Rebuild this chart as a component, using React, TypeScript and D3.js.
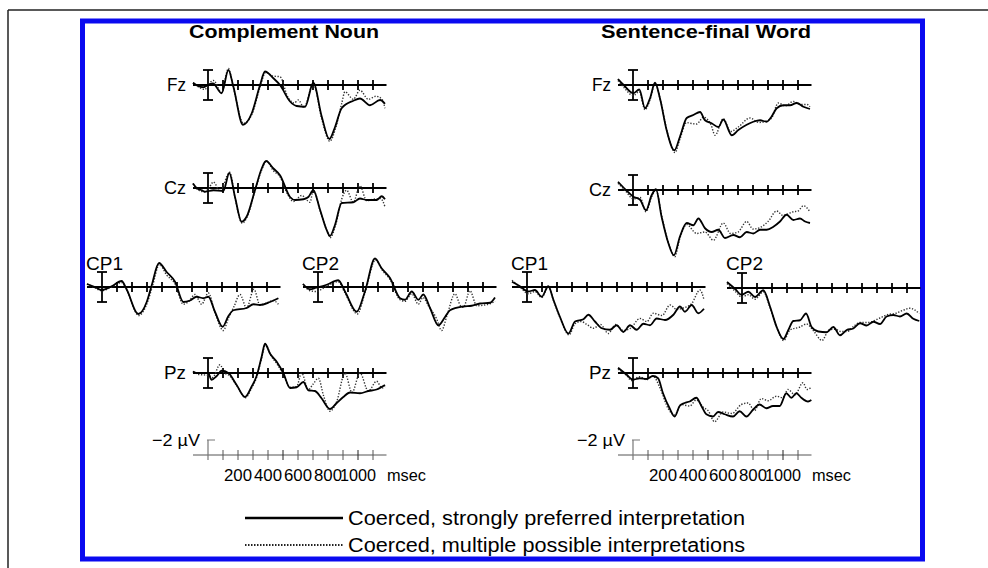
import React from 'react';
import * as d3 from 'd3';

type Pt = [number, number];

// ---------- text / categories ----------
const conditionTitles = ['Complement Noun', 'Sentence-final Word'];
const legendLabels = [
  'Coerced, strongly preferred interpretation',
  'Coerced, multiple possible interpretations',
];
const timeTicks = [100, 200, 300, 400, 500, 600, 700, 800, 900, 1000, 1100];
const timeTickLabels = [200, 400, 600, 800, 1000];
const calibrationLabel = '\u22122 \u00b5V';
const unitLabel = 'msec';

// ---------- data: [ms, µV] (negative plotted up) ----------
// Complement Noun
const cnFzSolid: Pt[] = [[-100,-0.3],[-70,0.1],[-30,0.3],[0,0],[33,-0.2],[91,1.1],[136,-2.0],[169,0.2],[233,5.3],[291,3.8],[347,0],[380,-1.8],[436,-0.9],[480,0],[547,2.2],[591,2.8],[647,2.9],[702,-0.3],[758,4.2],[809,7.2],[847,5.6],[891,3.1],[969,2.1],[1013,1.8],[1080,2.7],[1147,2.0],[1180,2.5]];
const cnFzDotted: Pt[] = [[-100,-0.3],[-60,0.3],[-20,0.6],[0,0],[36,-0.6],[91,1.0],[136,-2.2],[169,0.3],[236,5.1],[291,4.0],[347,0.3],[385,-1.7],[430,-1.2],[480,-1.1],[530,1.5],[575,2.4],[602,2.0],[640,3.0],[702,-0.2],[758,4.5],[812,7.5],[850,5.8],[891,2.5],[913,0.9],[969,1.9],[1013,0.7],[1069,1.9],[1120,1.5],[1160,1.9],[1180,3.1]];
const cnCzSolid: Pt[] = [[-100,-0.6],[-76,0],[-40,0.3],[-20,0.5],[36,0.3],[102,0.4],[142,-2.0],[180,1.2],[224,4.5],[258,3.8],[313,0.3],[358,-2.6],[387,-3.6],[436,-2.6],[480,-1.7],[547,1.2],[580,1.6],[636,1.5],[669,1.2],[702,0.3],[747,2.9],[791,5.6],[813,6.4],[847,4.9],[891,2.0],[969,1.9],[1013,1.4],[1058,1.6],[1124,1.6],[1158,1.1],[1180,1.5]];
const cnCzDotted: Pt[] = [[-100,-0.6],[-76,0.1],[-30,0.5],[0,0.2],[36,-0.8],[80,0.4],[145,-2.1],[180,1.3],[228,4.7],[260,3.9],[313,0.4],[358,-2.4],[390,-3.6],[436,-2.3],[480,-1.5],[530,0.8],[569,1.8],[625,1.0],[680,1.9],[702,0.3],[750,3.2],[795,5.8],[816,6.6],[850,5.0],[891,1.5],[924,0.3],[969,1.9],[1013,-0.3],[1058,1.7],[1100,1.5],[1150,1.4],[1180,2.5]];
const cnCP1Solid: Pt[] = [[-100,-0.4],[-47,0],[-2,0.4],[64,-0.1],[131,-0.8],[164,0.3],[242,3.6],[298,2.0],[331,-0.2],[380,-3.2],[431,-2.0],[487,-0.7],[542,2.0],[587,1.8],[631,1.3],[676,1.5],[709,1.3],[753,3.3],[804,5.3],[842,3.9],[876,3.1],[964,2.8],[1009,2.3],[1053,2.4],[1120,2.0],[1176,1.5]];
const cnCP1Dotted: Pt[] = [[-100,-0.4],[-47,0.1],[-2,0.5],[64,0],[131,-0.6],[164,0.4],[245,3.8],[300,2.2],[335,0],[383,-3.0],[431,-1.6],[487,-0.4],[542,2.3],[580,1.9],[620,1.0],[664,2.3],[709,0.8],[753,3.4],[809,5.8],[842,4.2],[880,2.6],[920,1.0],[964,2.8],[1013,0.3],[1053,2.4],[1100,2.1],[1140,1.8],[1176,2.3]];
const cnCP2Solid: Pt[] = [[-100,-0.4],[-53,0.3],[-13,0.1],[58,-0.3],[135,-0.9],[180,0.6],[258,3.3],[313,0.6],[380,-3.8],[424,-2.5],[480,-1.2],[547,1.5],[580,1.7],[625,0.6],[669,1.7],[702,1.0],[747,2.8],[802,5.1],[847,4.0],[880,3.1],[969,2.6],[1024,2.5],[1080,2.2],[1147,2.1],[1180,1.4]];
const cnCP2Dotted: Pt[] = [[-100,-0.4],[-53,0.5],[-13,0.6],[58,-0.1],[135,-0.7],[180,0.8],[262,3.6],[313,0.8],[383,-3.6],[430,-2.2],[480,-1.0],[547,1.7],[580,1.9],[625,0.9],[669,2.3],[700,1.4],[736,2.5],[790,4.2],[824,5.8],[860,3.8],[913,0.9],[950,2.5],[969,2.7],[1013,0.5],[1058,2.5],[1110,2.4],[1150,2.2],[1180,1.9]];
const cnPzSolid: Pt[] = [[-100,-0.2],[-76,0],[0,0],[24,0.9],[58,0.4],[91,-0.3],[136,0],[191,1.6],[247,3.2],[291,1.8],[324,0.4],[358,-2.2],[380,-3.9],[413,-2.6],[458,-1.5],[502,0],[547,2.0],[591,1.9],[636,1.2],[669,2.3],[713,2.4],[758,3.4],[813,4.8],[858,4.0],[902,3.2],[947,2.6],[1013,2.7],[1069,2.4],[1124,2.2],[1180,1.6]];
const cnPzDotted: Pt[] = [[-100,-0.2],[-60,0.2],[0,0.3],[30,0.6],[80,-1.1],[110,0],[140,0.3],[195,1.8],[250,3.3],[291,2.0],[324,0.6],[358,-2.0],[383,-3.8],[420,-2.3],[460,-1.2],[502,0.2],[547,1.9],[591,1.8],[624,0],[669,2.2],[700,1.5],[736,0.7],[770,3.0],[813,5.1],[858,3.8],[913,0],[960,2.6],[1013,0],[1069,2.4],[1124,1.1],[1160,2.0],[1180,1.8]];

// Sentence-final Word
const sfFzSolid: Pt[] = [[-100,-0.8],[-62,0],[2,1.1],[42,0.6],[80,3.1],[113,1.8],[147,-0.3],[180,1.8],[224,6.0],[276,8.7],[313,6.9],[358,4.4],[402,4.0],[447,3.6],[480,4.7],[524,5.1],[569,5.6],[602,4.6],[658,6.7],[702,6.0],[758,5.3],[802,4.9],[847,4.7],[891,4.9],[924,4.2],[958,3.1],[1002,2.7],[1047,2.7],[1091,2.4],[1136,2.9],[1180,3.2]];
const sfFzDotted: Pt[] = [[-100,-0.6],[-62,0.3],[2,1.4],[42,0.9],[80,3.3],[113,2.0],[147,-0.2],[185,2.2],[230,6.4],[280,9.0],[313,7.2],[358,5.0],[380,5.1],[424,5.2],[470,4.3],[520,5.3],[547,6.7],[602,4.5],[650,6.2],[702,5.6],[780,4.4],[840,5.0],[891,4.8],[924,4.4],[969,2.4],[1013,2.8],[1069,2.2],[1120,2.6],[1160,2.6],[1180,2.9]];
const sfCzSolid: Pt[] = [[-100,-1.1],[-47,0],[2,0.9],[47,1.3],[87,2.7],[124,0.7],[153,-0.1],[191,3.6],[236,7.1],[273,8.7],[313,6.2],[358,4.4],[402,4.7],[436,3.8],[480,5.1],[524,5.6],[569,5.3],[613,6.4],[669,6.0],[713,6.3],[758,5.6],[802,5.8],[847,5.3],[891,5.3],[936,4.9],[980,4.2],[1024,3.3],[1069,4.0],[1113,3.8],[1147,4.2],[1180,4.4]];
const sfCzDotted: Pt[] = [[-100,-0.9],[-47,0.2],[2,1.2],[47,1.0],[87,2.9],[124,0.9],[153,0],[195,3.8],[240,7.3],[278,8.9],[313,6.4],[358,4.6],[424,5.8],[480,5.6],[536,6.7],[602,4.4],[650,5.8],[700,5.6],[758,4.2],[800,5.2],[847,5.0],[900,4.2],[958,2.8],[1000,3.4],[1030,3.2],[1069,2.9],[1100,2.8],[1136,2.1],[1180,2.9]];
const sfCP1Solid: Pt[] = [[-100,-0.7],[-47,-0.1],[9,0.6],[53,0.4],[98,1.3],[142,-0.1],[176,1.7],[220,4.0],[276,6.2],[320,4.6],[376,4.3],[409,3.7],[453,4.6],[498,5.5],[553,5.7],[598,5.1],[642,6.0],[687,5.1],[731,5.7],[776,4.9],[820,5.1],[864,4.2],[920,4.4],[976,3.7],[1020,2.6],[1053,3.3],[1098,2.4],[1142,3.5],[1180,2.9]];
const sfCP1Dotted: Pt[] = [[-100,-0.9],[-47,0],[9,0.9],[53,0.6],[98,1.4],[142,0],[180,2.0],[224,4.3],[280,6.4],[320,4.9],[360,4.6],[400,5.0],[442,5.5],[490,5.0],[542,6.2],[590,5.0],[642,5.8],[690,5.5],[753,4.2],[800,4.6],[842,3.5],[900,3.8],[953,2.4],[1000,3.0],[1040,2.8],[1098,2.2],[1153,0.4],[1180,1.7]];
const sfCP2Solid: Pt[] = [[-100,-0.8],[-47,0.1],[-2,0.9],[42,0.5],[87,1.2],[142,0.3],[187,2.5],[231,5.2],[276,6.8],[309,5.6],[342,4.4],[387,4.3],[427,3.4],[464,5.2],[509,5.8],[564,5.9],[609,5.2],[653,6.3],[698,5.6],[742,5.4],[787,4.7],[831,5.0],[876,4.5],[920,4.8],[964,3.8],[1009,3.6],[1053,3.8],[1098,3.4],[1142,4.1],[1182,4.4]];
const sfCP2Dotted: Pt[] = [[-100,-0.6],[-47,0.4],[-2,1.2],[42,0.9],[87,1.5],[142,0.5],[190,2.8],[236,5.5],[278,7.0],[320,5.6],[387,5.2],[430,4.8],[480,5.8],[533,7.0],[580,5.6],[620,5.5],[660,5.8],[700,5.8],[750,5.0],[787,4.6],[840,4.6],[920,4.0],[980,3.5],[1020,3.4],[1070,3.0],[1120,2.7],[1182,3.4]];
const sfPzSolid: Pt[] = [[-100,-0.7],[-44,0.2],[0,0.9],[44,0.7],[89,0.8],[133,0.4],[167,0.7],[200,2.7],[244,4.7],[278,5.8],[311,4.4],[344,4.0],[378,3.8],[422,3.3],[456,4.4],[489,5.5],[533,5.8],[567,5.2],[611,5.5],[667,5.8],[711,5.1],[756,5.8],[800,4.9],[844,4.2],[889,4.7],[933,4.4],[978,4.4],[1022,2.7],[1056,3.3],[1089,2.7],[1122,3.3],[1167,3.8],[1189,3.6]];
const sfPzDotted: Pt[] = [[-100,-0.5],[-44,0.3],[-11,1.0],[44,0.5],[89,0.9],[133,0.4],[180,2.0],[236,4.8],[278,5.6],[320,4.2],[378,4.4],[422,3.6],[470,4.6],[500,5.0],[544,6.5],[600,5.2],[660,5.4],[722,4.2],[767,4.0],[810,5.0],[856,3.4],[900,3.7],[956,3.1],[1000,3.3],[1033,2.2],[1080,2.9],[1133,1.3],[1160,2.2],[1189,1.9]];

// ---------- layout ----------
type Panel = { name: string; x0: number; base: number; solid: Pt[]; dotted: Pt[]; lw: number };
const panels: Panel[] = [
  { name: 'Fz', x0: 208, base: 85, solid: cnFzSolid, dotted: cnFzDotted, lw: 19 },
  { name: 'Cz', x0: 208, base: 188, solid: cnCzSolid, dotted: cnCzDotted, lw: 22 },
  { name: 'CP1', x0: 102, base: 287, solid: cnCP1Solid, dotted: cnCP1Dotted, lw: 37 },
  { name: 'CP2', x0: 318, base: 287, solid: cnCP2Solid, dotted: cnCP2Dotted, lw: 37 },
  { name: 'Pz', x0: 208, base: 373, solid: cnPzSolid, dotted: cnPzDotted, lw: 22 },
  { name: 'Fz', x0: 633, base: 85, solid: sfFzSolid, dotted: sfFzDotted, lw: 19 },
  { name: 'Cz', x0: 633, base: 190, solid: sfCzSolid, dotted: sfCzDotted, lw: 22 },
  { name: 'CP1', x0: 527, base: 287, solid: sfCP1Solid, dotted: sfCP1Dotted, lw: 37 },
  { name: 'CP2', x0: 742, base: 288, solid: sfCP2Solid, dotted: sfCP2Dotted, lw: 37 },
  { name: 'Pz', x0: 633, base: 373, solid: sfPzSolid, dotted: sfPzDotted, lw: 22 },
];
const titleLayout = [
  { cx: 284, len: 190 },
  { cx: 706, len: 210 },
];
const calibX0 = [208, 633];
const calibBase = 455;
const PX_PER_100MS = 15;
const PX_PER_2UV = 15;

const FONT = 'Arial, "Liberation Sans", Helvetica, sans-serif';

function makeX(x0: number) {
  return d3.scaleLinear().domain([0, 100]).range([x0, x0 + PX_PER_100MS]);
}
function makeY(base: number) {
  return d3.scaleLinear().domain([0, 2]).range([base, base + PX_PER_2UV]);
}

function ErpPanel({ p }: { p: Panel }) {
  const x = makeX(p.x0);
  const y = makeY(p.base);
  const line = d3
    .line<Pt>()
    .x((d) => x(d[0]))
    .y((d) => y(d[1]))
    .curve(d3.curveMonotoneX);
  const isCP = p.name.startsWith('CP');
  return (
    <g>
      <line x1={x(-100)} x2={x(1190)} y1={y(0)} y2={y(0)} stroke="#000" strokeWidth={2.2} />
      {timeTicks.map((t) => (
        <line key={t} x1={x(t)} x2={x(t)} y1={p.base - 5} y2={p.base + 5} stroke="#000" strokeWidth={1.8} />
      ))}
      <line x1={x(0)} x2={x(0)} y1={y(-2)} y2={y(2)} stroke="#000" strokeWidth={1.8} />
      <line x1={x(0) - 5} x2={x(0) + 5} y1={y(-2)} y2={y(-2)} stroke="#000" strokeWidth={1.8} />
      <line x1={x(0) - 5} x2={x(0) + 5} y1={y(2)} y2={y(2)} stroke="#000" strokeWidth={1.8} />
      <path d={line(p.dotted) || ''} fill="none" stroke="#333" strokeWidth={1.4} strokeDasharray="1.3 1.6" />
      <path d={line(p.solid) || ''} fill="none" stroke="#000" strokeWidth={1.8} />
      {isCP ? (
        <text x={x(-100) - 1} y={270} fontSize={19} fontFamily={FONT} textLength={p.lw} lengthAdjust="spacingAndGlyphs">
          {p.name}
        </text>
      ) : (
        <text x={x(-100) - 7 - p.lw} y={p.base + 6} fontSize={19} fontFamily={FONT} textLength={p.lw} lengthAdjust="spacingAndGlyphs">
          {p.name}
        </text>
      )}
    </g>
  );
}

function Calibration({ x0 }: { x0: number }) {
  const x = makeX(x0);
  const y = makeY(calibBase);
  return (
    <g>
      <line x1={x(-100)} x2={x(1190)} y1={y(0)} y2={y(0)} stroke="#555" strokeWidth={1} />
      {timeTicks.map((t) => (
        <line key={t} x1={x(t)} x2={x(t)} y1={calibBase - 5} y2={calibBase + 5} stroke={t === 500 || t === 1000 ? '#222' : '#555'} strokeWidth={1} />
      ))}
      <line x1={x(0)} x2={x(0)} y1={y(-2)} y2={y(0) + 5} stroke="#777" strokeWidth={1.2} />
      <line x1={x(0) - 1} x2={x(0) + 7} y1={y(-2)} y2={y(-2)} stroke="#777" strokeWidth={1} />
      <text x={x(0) - 8} y={y(-2) + 6} fontSize={17} fontFamily={FONT} textAnchor="end" textLength={48} lengthAdjust="spacingAndGlyphs">
        {calibrationLabel}
      </text>
      {timeTickLabels.map((t) => (
        <text key={t} x={x(t)} y={481} fontSize={16} fontFamily={FONT} textAnchor="middle" textLength={t >= 1000 ? 36 : 28} lengthAdjust="spacingAndGlyphs">
          {t}
        </text>
      ))}
      <text x={x(1000) + 29} y={481} fontSize={16} fontFamily={FONT} textLength={39} lengthAdjust="spacingAndGlyphs">
        {unitLabel}
      </text>
    </g>
  );
}

export default function App() {
  return (
    <svg
      width={988}
      height={568}
      viewBox="0 0 988 568"
      style={{ position: 'absolute', left: 0, top: 0, background: '#fff' }}
    >
      <rect x={0} y={0} width={988} height={568} fill="#fff" />
      {/* outer border */}
      <line x1={8} x2={988} y1={10} y2={10} stroke="#222" strokeWidth={1.5} />
      <line x1={8} x2={8} y1={10} y2={568} stroke="#222" strokeWidth={1.5} />
      {/* blue frame */}
      <rect x={82.5} y={21} width={840} height={538} fill="none" stroke="#0a0af0" strokeWidth={5} />

      {conditionTitles.map((t, i) => (
        <text
          key={t}
          x={titleLayout[i].cx}
          y={38}
          fontSize={19}
          fontWeight="bold"
          fontFamily={FONT}
          textAnchor="middle"
          textLength={titleLayout[i].len}
          lengthAdjust="spacingAndGlyphs"
        >
          {t}
        </text>
      ))}

      {panels.map((p, i) => (
        <ErpPanel key={i} p={p} />
      ))}
      {calibX0.map((x0) => (
        <Calibration key={x0} x0={x0} />
      ))}

      {/* legend */}
      <line x1={245} x2={343} y1={518} y2={518} stroke="#000" strokeWidth={2.6} />
      <line x1={245} x2={343} y1={545} y2={545} stroke="#222" strokeWidth={2.2} strokeDasharray="1.5 1.5" />
      {legendLabels.map((t, i) => (
        <text
          key={t}
          x={348}
          y={525 + i * 27}
          fontSize={20}
          fontFamily={FONT}
          textLength={397}
          lengthAdjust="spacingAndGlyphs"
        >
          {t}
        </text>
      ))}
    </svg>
  );
}
